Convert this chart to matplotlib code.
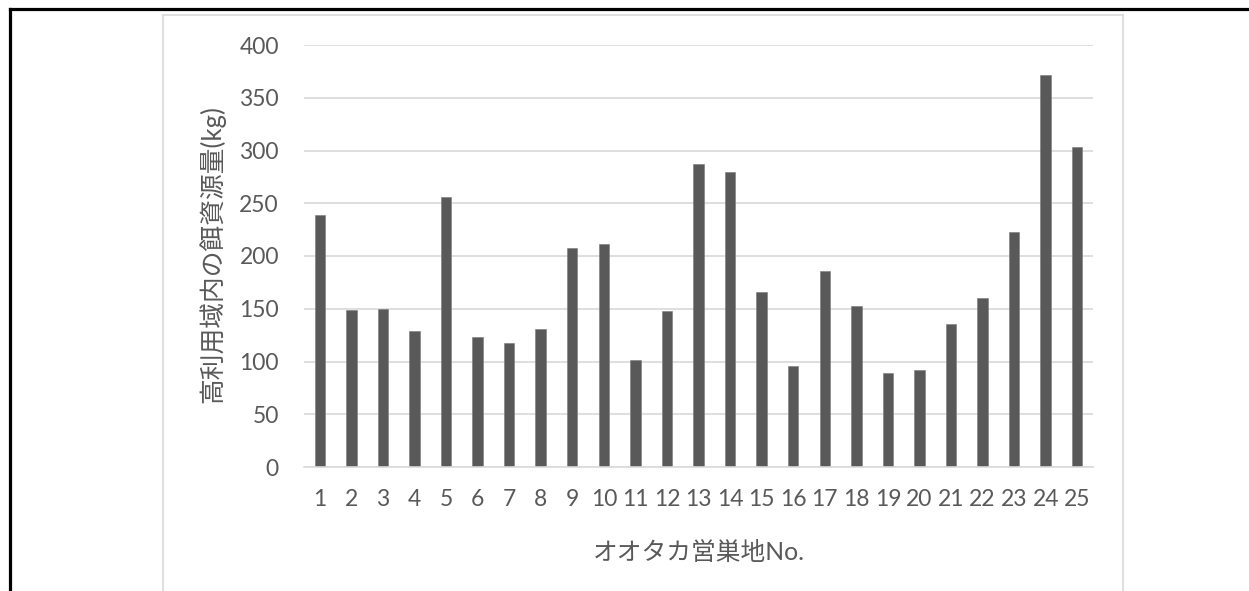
import matplotlib
matplotlib.use("Agg")
import matplotlib.pyplot as plt
from matplotlib.lines import Line2D

# Nest site numbers and food resource amount in the high-use area (kg)
sites = [str(i) for i in range(1, 26)]
food_kg = [239, 149, 150, 129, 256, 123, 118, 131, 208, 211,
           101, 148, 287, 280, 166, 96, 186, 153, 89, 92,
           136, 160, 223, 372, 303]
y_ticks = [0, 50, 100, 150, 200, 250, 300, 350, 400]

ylabel = "高利用域内の餌資源量(kg)"
xlabel = "オオタカ営巣地No."

TEXT = "#595959"
GRID = "#d9d9d9"
BAR = "#595959"
FONTS = ["Lato", "Noto Sans CJK JP", "DejaVu Sans"]

W, H = 1249, 591
fig = plt.figure(figsize=(W / 100, H / 100), dpi=100)
fig.patch.set_facecolor("white")

def fx(px):
    return px / W

def fy(py):
    return 1 - py / H

# Outer black frame (top and left edges)
fig.add_artist(Line2D([fx(9.5), 1.0], [fy(8.5), fy(8.5)], color="black", lw=2.3))
fig.add_artist(Line2D([fx(9.5), fx(9.5)], [fy(8.5), 0.0], color="black", lw=2.3))

# Light grey chart-area border
fig.add_artist(Line2D([fx(162.5), fx(1122.5)], [fy(15), fy(15)], color=GRID, lw=1.2))
fig.add_artist(Line2D([fx(162.5), fx(162.5)], [fy(15), 0.0], color=GRID, lw=1.2))
fig.add_artist(Line2D([fx(1122.5), fx(1122.5)], [fy(15), 0.0], color=GRID, lw=1.2))

left, right, top, bottom = 304, 1093, 45, 467
ax = fig.add_axes([fx(left), fy(bottom), fx(right - left), fy(top) - fy(bottom)])

x = list(range(len(sites)))
ax.bar(x, food_kg, width=0.33, color=BAR, edgecolor="#7a7a7a", linewidth=0.4, zorder=3)

ax.set_xlim(-0.5, len(sites) - 0.5)
ax.set_ylim(0, 400)
ax.set_yticks(y_ticks)
ax.set_yticklabels([str(v) for v in y_ticks])
ax.set_xticks(x)
ax.set_xticklabels(sites)

ax.yaxis.grid(True, color=GRID, lw=1.2, zorder=0)
ax.set_axisbelow(True)
for s in ["top", "right", "left"]:
    ax.spines[s].set_visible(False)
ax.spines["bottom"].set_color(GRID)
ax.spines["bottom"].set_linewidth(1.2)
ax.spines["bottom"].set_zorder(4)

ax.tick_params(axis="both", length=0, colors=TEXT, labelsize=16.5)
ax.tick_params(axis="y", pad=18)
ax.tick_params(axis="x", pad=16)
for lab in ax.get_xticklabels() + ax.get_yticklabels():
    lab.set_family(FONTS)

fig.text(fx(212), fy(254), ylabel, rotation=90, ha="center", va="center",
         color=TEXT, fontsize=18.5, family=FONTS)
fig.text(fx(698.5), fy(552), xlabel, ha="center", va="center",
         color=TEXT, fontsize=17.8, family=FONTS)

fig.savefig("out.png", dpi=100, facecolor="white")
